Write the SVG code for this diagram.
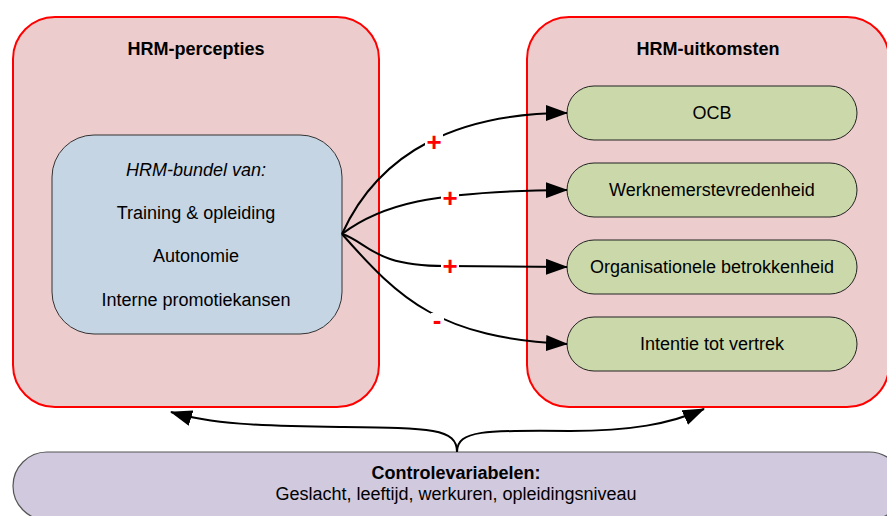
<svg xmlns="http://www.w3.org/2000/svg" width="887" height="516" viewBox="0 0 887 516">
  <defs>
    <marker id="arrow" viewBox="0 0 22 16" refX="21" refY="8" markerWidth="22" markerHeight="16" markerUnits="userSpaceOnUse" orient="auto">
      <path d="M0,0 L22,8 L0,16 Z" fill="#000"/>
    </marker>
    <style>
      .outer { fill: #eccccc; stroke: #ff0000; stroke-width: 2; }
      .bundle { fill: #c6d5e4; stroke: #333; stroke-width: 1; }
      .outcome { fill: #cbd9aa; stroke: #222; stroke-width: 1; }
      .control { fill: #d1c9dd; stroke: #555; stroke-width: 1.2; }
      text { font-family: "Liberation Sans", Arial, sans-serif; font-size: 18px; fill: #000; text-anchor: middle; }
      .title { font-weight: bold; }
      .ital { font-style: italic; }
      .edge { fill: none; stroke: #000; stroke-width: 2; marker-end: url(#arrow); }
      .sign { font-weight: bold; font-size: 26px; fill: #ff0000; }
      .signbg { fill: #fff; }
    </style>
  </defs>

  <!-- left container: perceived HRM -->
  <g id="hrm-percepties">
    <rect class="outer" x="13" y="17" width="366" height="390" rx="42" ry="42"/>
    <text class="title" x="196" y="55">HRM-percepties</text>
  </g>

  <!-- right container: outcomes -->
  <g id="hrm-uitkomsten">
    <rect class="outer" x="527" y="17" width="362" height="390" rx="42" ry="42"/>
    <text class="title" x="708" y="55">HRM-uitkomsten</text>
  </g>

  <g id="hrm-bundel">
    <rect class="bundle" x="52" y="135" width="290" height="199" rx="42" ry="42"/>
    <text class="ital" x="196" y="176">HRM-bundel van:</text>
    <text x="196" y="219">Training &amp; opleiding</text>
    <text x="196" y="262">Autonomie</text>
    <text x="196" y="306">Interne promotiekansen</text>
  </g>

  <g id="ocb">
    <rect class="outcome" x="567" y="86" width="290" height="54" rx="27" ry="27"/>
    <text x="712" y="119">OCB</text>
  </g>
  <g id="werknemerstevredenheid">
    <rect class="outcome" x="567" y="163" width="290" height="54" rx="27" ry="27"/>
    <text x="712" y="196">Werknemerstevredenheid</text>
  </g>
  <g id="organisationele-betrokkenheid">
    <rect class="outcome" x="567" y="240" width="290" height="54" rx="27" ry="27"/>
    <text x="712" y="273">Organisationele betrokkenheid</text>
  </g>
  <g id="intentie-tot-vertrek">
    <rect class="outcome" x="567" y="317" width="290" height="54" rx="27" ry="27"/>
    <text x="712" y="350">Intentie tot vertrek</text>
  </g>

  <g id="controlevariabelen">
    <rect class="control" x="13" y="452" width="890" height="68" rx="34" ry="34"/>
    <text class="title" x="456" y="479">Controlevariabelen:</text>
    <text x="456" y="500">Geslacht, leeftijd, werkuren, opleidingsniveau</text>
  </g>

  <!-- connectors -->
  <g id="connectors">
    <path class="edge" d="M342,234 C380,150 460,113 567,113"/>
    <path class="edge" d="M342,234 C380,205 430,191 567,190"/>
    <path class="edge" d="M342,234 C368,242 372,266 445,266 L567,267"/>
    <path class="edge" d="M342,234 C400,300 440,338 567,344"/>

    <path class="edge" d="M457,452 C457,428 430,428 340,427 C260,426 210,424 171,412"/>
    <path class="edge" d="M457,452 C457,430 485,430 570,431 C630,431 670,424 704,409"/>

    <rect class="signbg" x="425" y="133" width="18" height="18"/>
    <text class="sign" x="434" y="151">+</text>
    <rect class="signbg" x="441" y="189" width="18" height="18"/>
    <text class="sign" x="450" y="207">+</text>
    <rect class="signbg" x="441" y="257" width="18" height="18"/>
    <text class="sign" x="450" y="275">+</text>
    <rect class="signbg" x="431" y="313" width="13" height="14"/>
    <text class="sign" x="437" y="329">-</text>
  </g>
</svg>
